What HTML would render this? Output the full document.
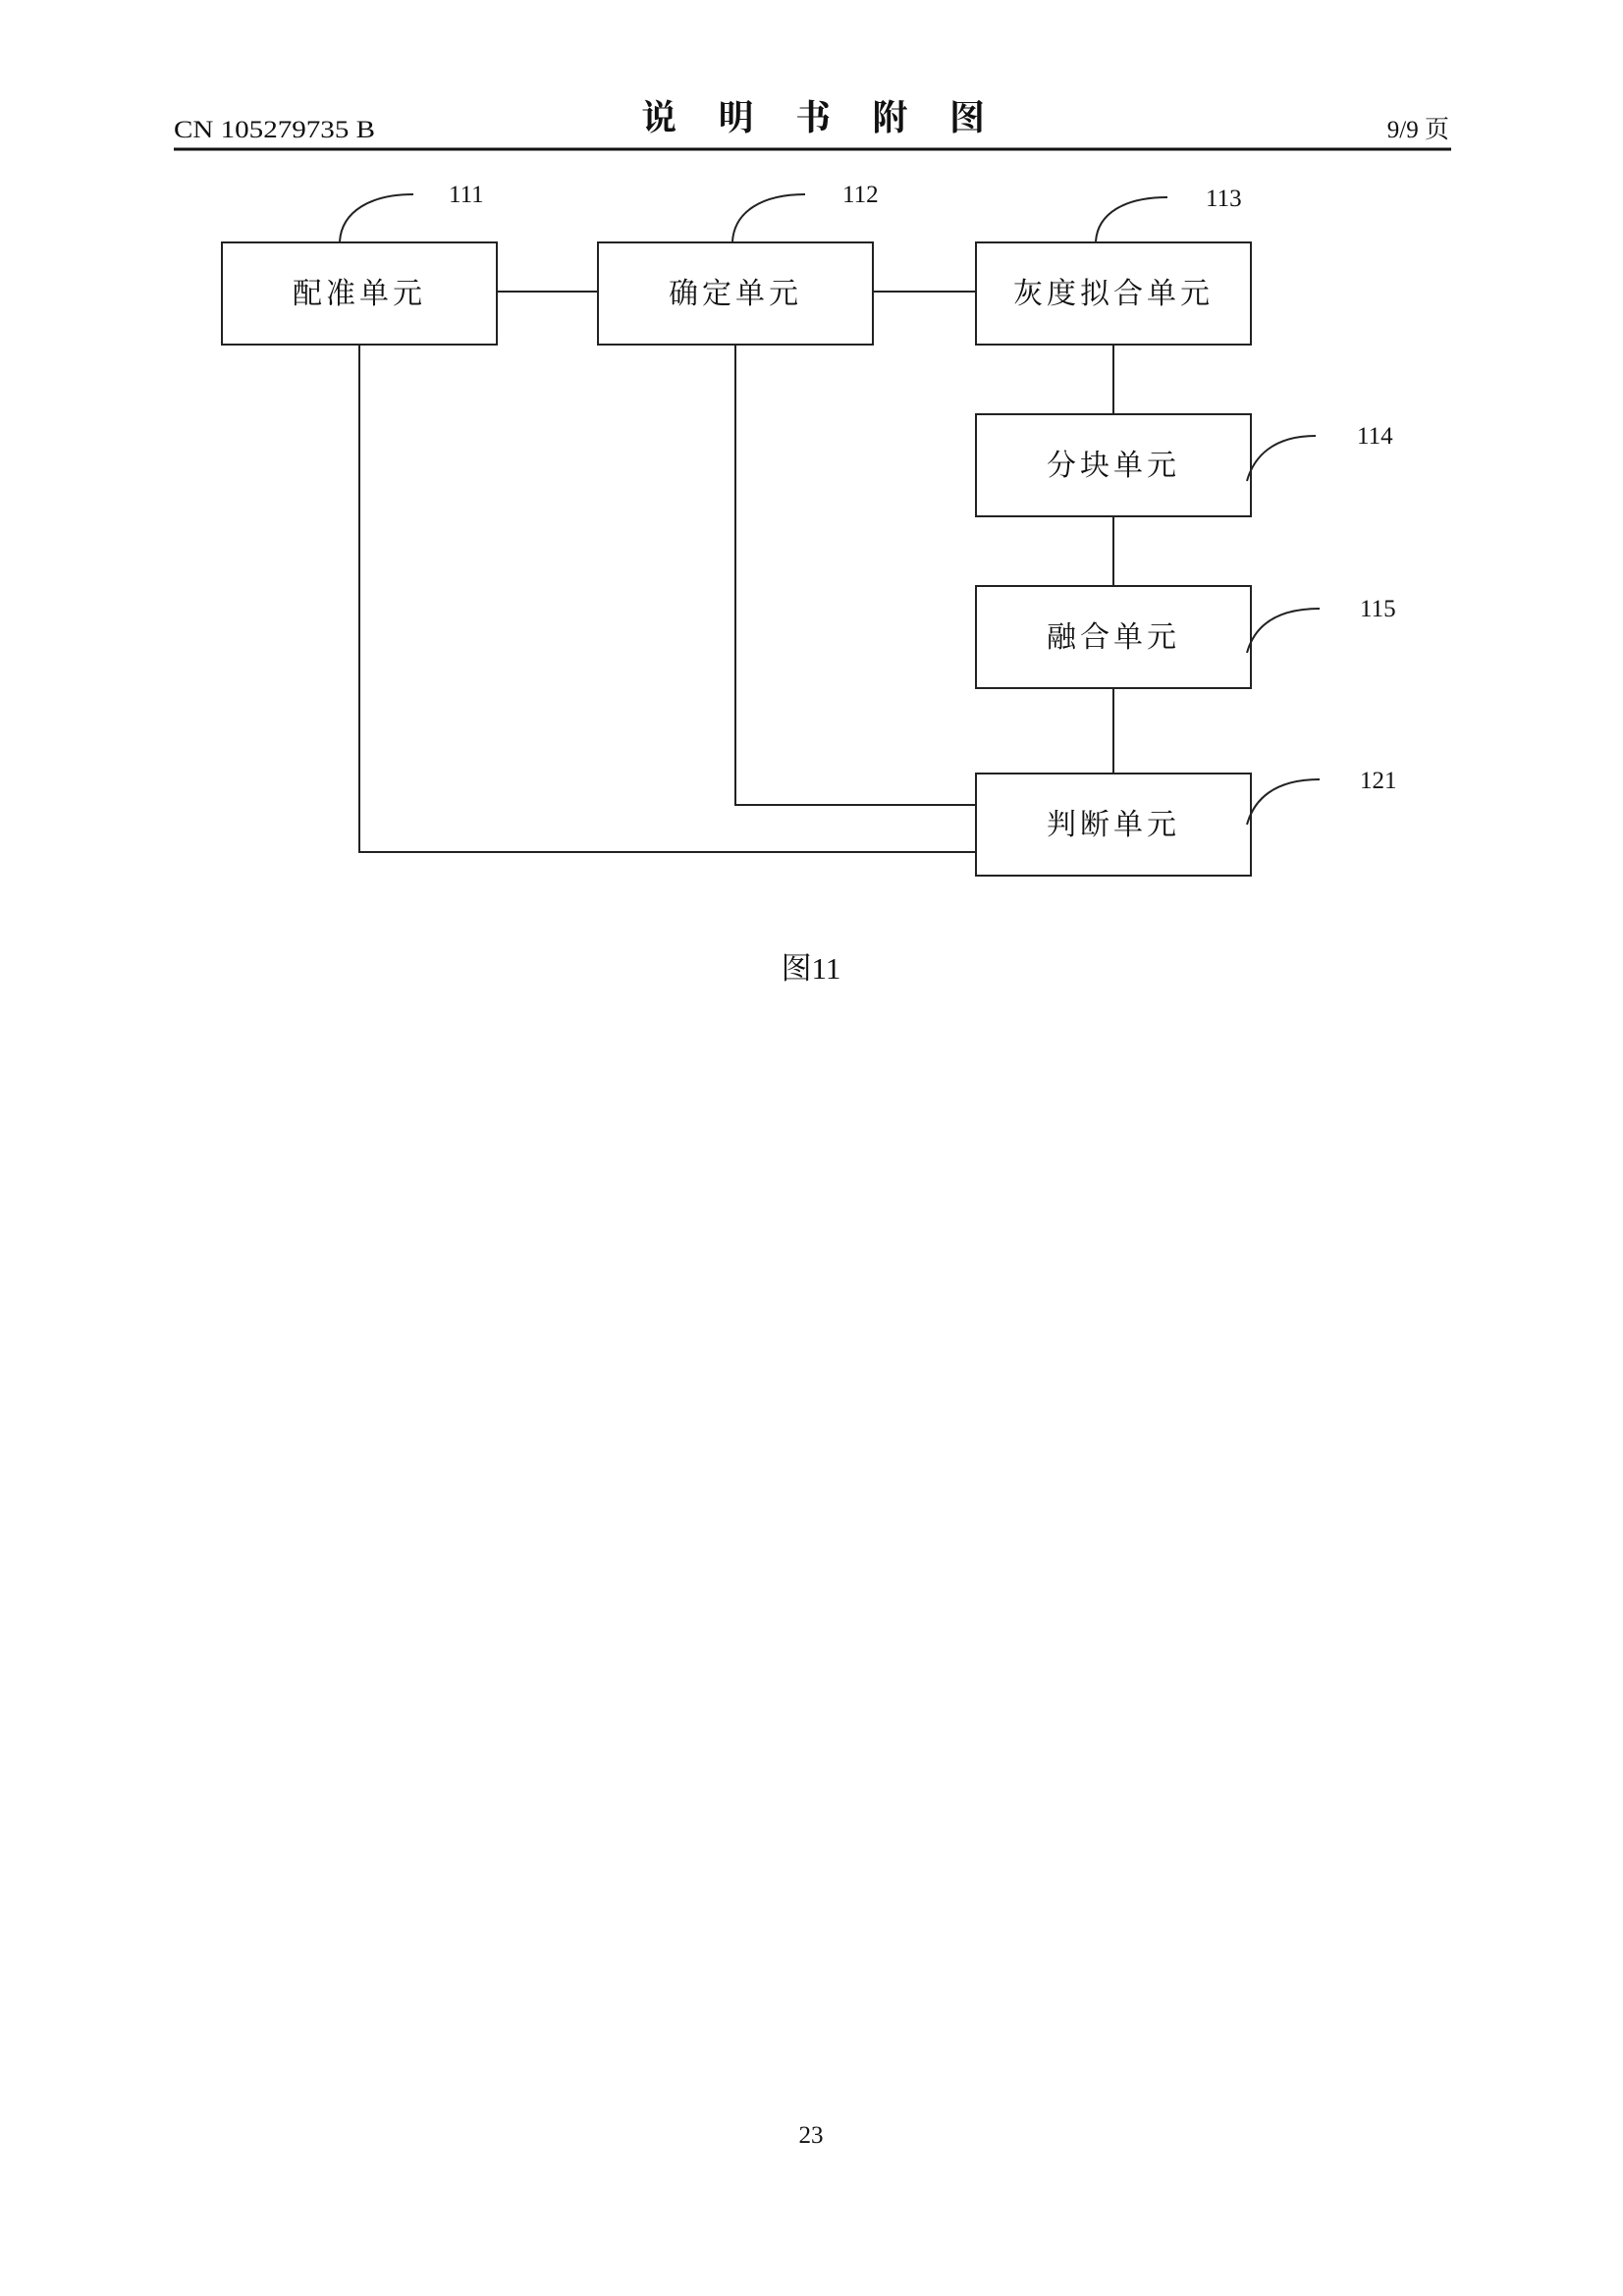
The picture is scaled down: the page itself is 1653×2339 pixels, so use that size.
<!DOCTYPE html>
<html><head><meta charset="utf-8"><style>
html,body{margin:0;padding:0;background:#fff}
body{width:1653px;height:2339px;position:relative;overflow:hidden}
svg{position:absolute;left:0;top:0}
text{fill:#111}
.s{font-family:"Liberation Serif","Noto Serif CJK SC",serif}
.k{font-family:"Liberation Serif","Noto Serif CJK SC","Noto Sans CJK SC",serif}
</style></head><body>
<svg width="1653" height="2339" viewBox="0 0 1653 2339">
<text x="177" y="140" class="s" font-size="25" textLength="205" lengthAdjust="spacingAndGlyphs">CN 105279735 B</text>
<text x="828" y="132" class="k" font-size="36" font-weight="bold" text-anchor="middle" textLength="350" lengthAdjust="spacing">说 明 书 附 图</text>
<text x="1476" y="140" class="k" font-size="25" text-anchor="end">9/9 页</text>
<line x1="177" y1="152" x2="1478" y2="152" stroke="#111" stroke-width="3"/>
<g fill="none" stroke="#222" stroke-width="2">
<rect x="226" y="247" width="280" height="104"/>
<rect x="609" y="247" width="280" height="104"/>
<rect x="994" y="247" width="280" height="104"/>
<rect x="994" y="422" width="280" height="104"/>
<rect x="994" y="597" width="280" height="104"/>
<rect x="994" y="788" width="280" height="104"/>
<line x1="506" y1="297" x2="609" y2="297"/>
<line x1="889" y1="297" x2="994" y2="297"/>
<line x1="1134" y1="351" x2="1134" y2="422"/>
<line x1="1134" y1="526" x2="1134" y2="597"/>
<line x1="1134" y1="701" x2="1134" y2="788"/>
<polyline points="749,351 749,820 994,820"/>
<polyline points="366,351 366,868 994,868"/>
<path d="M346,246 C348,215 378,198 421,198"/>
<path d="M746,246 C748,215 777,198 820,198"/>
<path d="M1116,246 C1118,217 1146,201 1189,201"/>
<path d="M1270,490 C1277,465 1297,444 1340,444"/>
<path d="M1270,665 C1277,640 1297,620 1344,620"/>
<path d="M1270,840 C1277,815 1297,794 1344,794"/>
</g>
<g class="s" font-size="25">
<text x="457" y="206">111</text>
<text x="858" y="206">112</text>
<text x="1228" y="210">113</text>
<text x="1382" y="452">114</text>
<text x="1385" y="628">115</text>
<text x="1385" y="803">121</text>
</g>
<g class="k" font-size="30" text-anchor="middle">
<text x="366" y="309" letter-spacing="4">配准单元</text>
<text x="749" y="309" letter-spacing="4">确定单元</text>
<text x="1134" y="309" letter-spacing="4">灰度拟合单元</text>
<text x="1134" y="484" letter-spacing="4">分块单元</text>
<text x="1134" y="659" letter-spacing="4">融合单元</text>
<text x="1134" y="850" letter-spacing="4">判断单元</text>
</g>
<text x="826" y="997" class="k" font-size="31" text-anchor="middle">图11</text>
<text x="826" y="2183" class="s" font-size="25" text-anchor="middle">23</text>
</svg>
</body></html>
